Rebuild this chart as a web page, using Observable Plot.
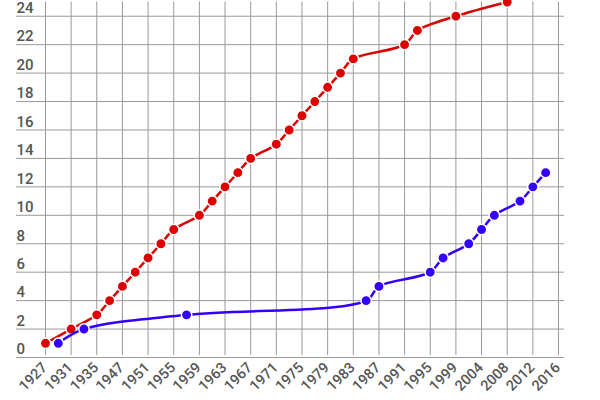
<!DOCTYPE html>
<html>
<head>
<meta charset="utf-8">
<script src="https://cdn.jsdelivr.net/npm/d3@7"></script>
<script src="https://cdn.jsdelivr.net/npm/@observablehq/plot@0.6"></script>
<style>
  html, body { margin: 0; padding: 0; background: white; }
</style>
</head>
<body>
<div id="chart"></div>
<script>
// Axis tick labels (evenly spaced on the axis)
const tickYears = [1927,1931,1935,1947,1951,1955,1959,1963,1967,1971,1975,1979,1983,1987,1991,1995,1999,2004,2008,2012,2016];
const yTicks = [0,2,4,6,8,10,12,14,16,18,20,22,24];

// Red series
const redYears  = [1927,1931,1935,1941,1947,1949,1951,1953,1955,1959,1961,1963,1965,1967,1971,1973,1975,1977,1979,1981,1983,1991,1993,1999,2008];
const redValues = [1,2,3,4,5,6,7,8,9,10,11,12,13,14,15,16,17,18,19,20,21,22,23,24,25];

// Blue series
const blueYears  = [1929,1933,1957,1985,1987,1995,1997,2001.5,2004,2006,2010,2012,2014];
const blueValues = [1,2,3,4,5,6,7,8,9,10,11,12,13];

const redColor = "#dc0000";
const blueColor = "#3300ff";

// the axis places its labels evenly; map a year to its slot on that axis
const slot = d3.scaleLinear().domain(tickYears).range(d3.range(tickYears.length));

const red = redYears.map((y, i) => ({pos: slot(y), value: redValues[i]}));
const blue = blueYears.map((y, i) => ({pos: slot(y), value: blueValues[i]}));

const chart = Plot.plot({
  width: 600,
  height: 400,
  marginLeft: 16,
  marginRight: 36,
  marginTop: 1.5,
  marginBottom: 43,
  x: {type: "linear", domain: [-1.13, 20.234], axis: null},
  y: {type: "linear", domain: [0, 25], axis: null},
  style: {fontFamily: "Roboto, sans-serif", background: "white"},
  marks: [
    Plot.ruleY(yTicks, {y: d => d, stroke: "#999", strokeWidth: 1}),
    Plot.ruleX(tickYears, {x: d => slot(d), y1: 0, y2: 25, stroke: "#999", strokeWidth: 1, insetTop: -2}),
    Plot.text(yTicks, {y: d => d, text: d => String(d), frameAnchor: "left", textAnchor: "start", dy: -8, fontSize: 15, fontWeight: 500, fill: "#555"}),
    Plot.text(tickYears, {x: d => slot(d), text: d => String(d), frameAnchor: "bottom", rotate: -45, textAnchor: "end", dx: 2.5, dy: 11, fontSize: 14.5, fontWeight: 500, fill: "#555"}),
    Plot.line(red, {x: "pos", y: "value", stroke: redColor, strokeWidth: 2.5, curve: "catmull-rom"}),
    Plot.dot(red, {x: "pos", y: "value", r: 5.2, fill: redColor, stroke: "white", strokeWidth: 1.5}),
    Plot.line(blue, {x: "pos", y: "value", stroke: blueColor, strokeWidth: 2.5, curve: "catmull-rom"}),
    Plot.dot(blue, {x: "pos", y: "value", r: 5.2, fill: blueColor, stroke: "white", strokeWidth: 1.5})
  ]
});
document.getElementById("chart").appendChild(chart);
</script>
</body>
</html>
